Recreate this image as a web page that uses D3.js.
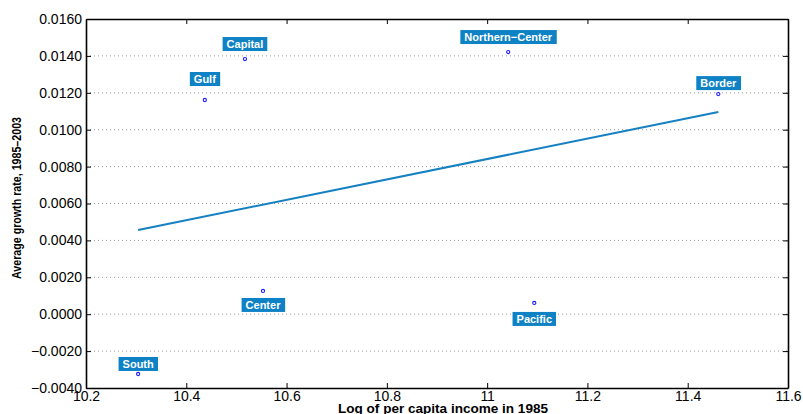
<!DOCTYPE html>
<html>
<head>
<meta charset="utf-8">
<script src="https://cdn.jsdelivr.net/npm/d3@7"></script>
<style>
  body { margin: 0; background: #fff; }
  svg text { font-family: "Liberation Sans", Arial, sans-serif; }
</style>
</head>
<body>
<div id="chart"></div>
<script>
// Data
const regions = ["South", "Gulf", "Capital", "Center", "Northern\u2212Center", "Pacific", "Border"];
const logIncome = [10.304, 10.437, 10.517, 10.553, 11.042, 11.094, 11.461];
const growth = [-0.00324, 0.01161, 0.01383, 0.00126, 0.01421, 0.00061, 0.01193];
// fitted line end points
const fitX = [10.304, 11.461];
const fitY = [0.00456, 0.01096];
// label offset in pixels (above < 0, below > 0)
const labelDy = [-10, -21, -15, 14, -15, 16, -11];
const xTicks = [10.2, 10.4, 10.6, 10.8, 11, 11.2, 11.4, 11.6];
const yTicks = [-0.004, -0.002, 0, 0.002, 0.004, 0.006, 0.008, 0.01, 0.012, 0.014, 0.016];

const width = 803;
const height = 414;
const margin = { top: 19, right: 15, bottom: 26, left: 86 };

const svg = d3.select("#chart")
  .append("svg")
  .attr("width", width)
  .attr("height", height);

const x = d3.scaleLinear().domain([10.2, 11.6]).range([margin.left, width - margin.right]);
const y = d3.scaleLinear().domain([-0.004, 0.016]).range([height - margin.bottom, margin.top]);

const fmtY = d => d3.format(".4f")(d).replace("-", "\u2212");
const fmtX = d => d === 11 ? "11" : d3.format(".1f")(d);

// horizontal dotted grid
svg.append("g")
  .selectAll("line")
  .data(yTicks.slice(1, -1))
  .enter()
  .append("line")
  .attr("x1", x(10.2))
  .attr("x2", x(11.6))
  .attr("y1", d => y(d))
  .attr("y2", d => y(d))
  .attr("stroke", "#999")
  .attr("stroke-width", 1)
  .attr("stroke-dasharray", "1,3");

// axes (ticks inward)
function styleAxis(g) {
  g.select(".domain").attr("stroke", "#000").attr("stroke-width", 1.6);
  g.selectAll(".tick line").attr("stroke", "#000").attr("stroke-width", 1);
  g.selectAll(".tick text").attr("font-size", 14).attr("fill", "#000");
}

svg.append("g")
  .attr("transform", `translate(0, ${y(-0.004)})`)
  .call(d3.axisBottom(x).tickValues(xTicks).tickFormat(fmtX).tickSizeInner(-5).tickSizeOuter(0).tickPadding(3))
  .call(styleAxis);

svg.append("g")
  .attr("transform", `translate(0, ${y(0.016)})`)
  .call(d3.axisTop(x).tickValues(xTicks).tickFormat("").tickSizeInner(-5).tickSizeOuter(0))
  .call(styleAxis);

svg.append("g")
  .attr("transform", `translate(${x(10.2)}, 0)`)
  .call(d3.axisLeft(y).tickValues(yTicks).tickFormat(fmtY).tickSizeInner(-5).tickSizeOuter(0).tickPadding(4))
  .call(styleAxis);

svg.append("g")
  .attr("transform", `translate(${x(11.6)}, 0)`)
  .call(d3.axisRight(y).tickValues(yTicks).tickFormat("").tickSizeInner(-5).tickSizeOuter(0))
  .call(styleAxis);

// axis titles
svg.append("text")
  .attr("x", 443)
  .attr("y", 413)
  .attr("text-anchor", "middle")
  .attr("font-size", 13)
  .attr("font-weight", "bold")
  .attr("textLength", 210)
  .attr("lengthAdjust", "spacingAndGlyphs")
  .text("Log of per capita income in 1985");

svg.append("text")
  .attr("transform", `translate(21, 198) rotate(-90)`)
  .attr("text-anchor", "middle")
  .attr("font-size", 12)
  .attr("font-weight", "bold")
  .attr("textLength", 162)
  .attr("lengthAdjust", "spacingAndGlyphs")
  .text("Average growth rate, 1985\u20132003");

// regression line
svg.append("line")
  .attr("x1", x(fitX[0]))
  .attr("y1", y(fitY[0]))
  .attr("x2", x(fitX[1]))
  .attr("y2", y(fitY[1]))
  .attr("stroke", "#1580c2")
  .attr("stroke-width", 2);

// points
const pts = regions.map((r, i) => ({ name: r, x: logIncome[i], y: growth[i], dy: labelDy[i] }));

svg.selectAll("circle.pt")
  .data(pts)
  .enter()
  .append("circle")
  .attr("class", "pt")
  .attr("cx", d => x(d.x))
  .attr("cy", d => y(d.y))
  .attr("r", 1.6)
  .attr("fill", "none")
  .attr("stroke", "#1a1aff")
  .attr("stroke-width", 1.1);

// labels
const lab = svg.selectAll("g.lab")
  .data(pts)
  .enter()
  .append("g")
  .attr("class", "lab")
  .attr("transform", d => `translate(${x(d.x)}, ${y(d.y) + d.dy})`);

lab.append("text")
  .attr("text-anchor", "middle")
  .attr("dy", "0.35em")
  .attr("font-size", 11)
  .attr("font-weight", "bold")
  .attr("fill", "#fff")
  .text(d => d.name)
  .each(function () {
    const b = this.getBBox();
    d3.select(this.parentNode)
      .insert("rect", "text")
      .attr("x", b.x - 4)
      .attr("y", -7)
      .attr("width", b.width + 8)
      .attr("height", 14)
      .attr("fill", "#0f82c6");
  });
</script>
</body>
</html>
